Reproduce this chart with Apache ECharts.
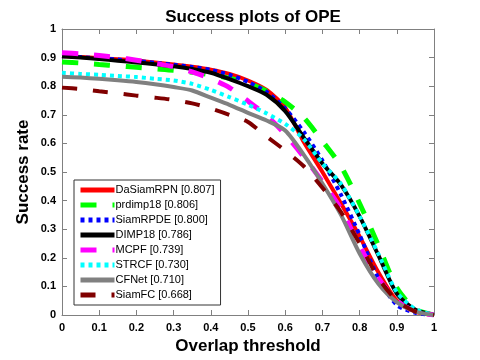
<!DOCTYPE html>
<html><head><meta charset="utf-8">
<script src="https://cdn.jsdelivr.net/npm/echarts@6/dist/echarts.min.js"></script>
<style>html,body{margin:0;padding:0;background:#fff}#c{width:480px;height:360px}</style>
</head><body><div id="c"></div>
<script>
const thresholds = [0,0.05,0.1,0.15,0.2,0.25,0.3,0.35,0.4,0.45,0.5,0.55,0.6,0.65,0.7,0.75,0.8,0.85,0.9,0.95,1];
const names = ['DaSiamRPN [0.807]','prdimp18 [0.806]','SiamRPDE [0.800]','DIMP18 [0.786]','MCPF [0.739]','STRCF [0.730]','CFNet [0.710]','SiamFC [0.668]'];
const daSiamRPN = [0.905,0.902,0.898,0.894,0.89,0.883,0.876,0.868,0.858,0.843,0.82,0.787,0.725,0.605,0.50,0.39,0.275,0.15,0.05,0.012,0];
const prdimp18  = [0.885,0.881,0.876,0.871,0.866,0.861,0.856,0.849,0.84,0.828,0.81,0.783,0.745,0.69,0.608,0.52,0.39,0.245,0.095,0.02,0];
const siamRPDE  = [0.905,0.902,0.897,0.893,0.888,0.882,0.875,0.867,0.857,0.84,0.815,0.78,0.722,0.64,0.54,0.42,0.28,0.13,0.035,0.008,0];
const dimp18    = [0.905,0.9,0.895,0.889,0.883,0.877,0.87,0.86,0.847,0.825,0.80,0.77,0.713,0.62,0.53,0.455,0.345,0.21,0.075,0.018,0];
const mcpf      = [0.917,0.913,0.907,0.9,0.891,0.88,0.868,0.85,0.826,0.795,0.748,0.697,0.632,0.553,0.466,0.37,0.24,0.13,0.05,0.012,0];
const strcf     = [0.847,0.843,0.84,0.836,0.832,0.826,0.82,0.808,0.787,0.762,0.735,0.705,0.668,0.615,0.53,0.458,0.345,0.215,0.08,0.02,0];
const cfnet     = [0.833,0.83,0.826,0.821,0.815,0.807,0.797,0.785,0.76,0.735,0.707,0.68,0.645,0.56,0.46,0.35,0.215,0.11,0.045,0.012,0];
const siamFC    = [0.795,0.79,0.782,0.775,0.767,0.76,0.752,0.74,0.722,0.70,0.675,0.624,0.575,0.52,0.445,0.36,0.25,0.13,0.05,0.012,0];
const allValues = [daSiamRPN,prdimp18,siamRPDE,dimp18,mcpf,strcf,cfnet,siamFC];
const colors = ['#ff0000','#00ff00','#0000ff','#000000','#ff00ff','#00ffff','#808080','#800000'];
const dashes = ['solid',[16,16],[4,4],'solid',[16,16],[4,4],'solid',[15,16]];
const widths = [4,5,4,4,5,4,4,4];

const FONT = 'Liberation Sans';
const chart = echarts.init(document.getElementById('c'), null, {renderer:'canvas'});
const series = allValues.map((vals,i)=>({
  name: names[i], type:'line', showSymbol:false, symbol:'none', smooth:0.25,
  xAxisIndex:0, yAxisIndex:0,
  data: thresholds.map((t,k)=>[t, vals[k]]),
  lineStyle:{color:colors[i], width:widths[i], type:dashes[i], cap:'butt'},
  itemStyle:{color:colors[i]},
  emphasis:{disabled:true}, animation:false
}));
const axisCommon = {
  type:'value', min:0, max:1, interval:0.1,
  axisLine:{show:true, onZero:false, lineStyle:{color:'#808080', width:1}},
  axisTick:{show:true, inside:true, length:5, lineStyle:{color:'#808080'}},
  splitLine:{show:false}
};
chart.setOption({
  animation:false,
  backgroundColor:'#ffffff',
  title:{text:'Success plots of OPE', left:248, textAlign:'center', top:4,
    textStyle:{fontFamily:FONT, fontSize:17, fontWeight:'bold', color:'#000'}},
  grid:{left:62, right:46, top:29, bottom:44, containLabel:false},
  legend:{orient:'vertical', left:74, top:180, itemWidth:34, itemHeight:8, itemGap:1,
    padding:[3,6,3,4], borderColor:'#333', borderWidth:1, backgroundColor:'#fff',
    selectedMode:false,
    itemStyle:{opacity:0},
    lineStyle:{width:5},
    textStyle:{fontFamily:FONT, fontSize:11, color:'#000', lineHeight:14, padding:[0,0,0,-4]},
    data: names},
  xAxis:[
    Object.assign({}, axisCommon, {position:'bottom', name:'Overlap threshold', nameLocation:'middle', nameGap:23,
      nameMoveOverlap:false,
      nameTextStyle:{fontFamily:FONT, fontSize:17, fontWeight:'bold', color:'#000'},
      axisLabel:{fontFamily:FONT, fontSize:11, fontWeight:'bold', color:'#000', margin:7}}),
    Object.assign({}, axisCommon, {position:'top', axisLabel:{show:false}})
  ],
  yAxis:[
    Object.assign({}, axisCommon, {position:'left', name:'Success rate', nameLocation:'middle', nameGap:30,
      nameMoveOverlap:false,
      nameTextStyle:{fontFamily:FONT, fontSize:17, fontWeight:'bold', color:'#000'},
      axisLabel:{fontFamily:FONT, fontSize:11, fontWeight:'bold', color:'#000', margin:6}}),
    Object.assign({}, axisCommon, {position:'right', axisLabel:{show:false}})
  ],
  series: series
});
</script></body></html>
